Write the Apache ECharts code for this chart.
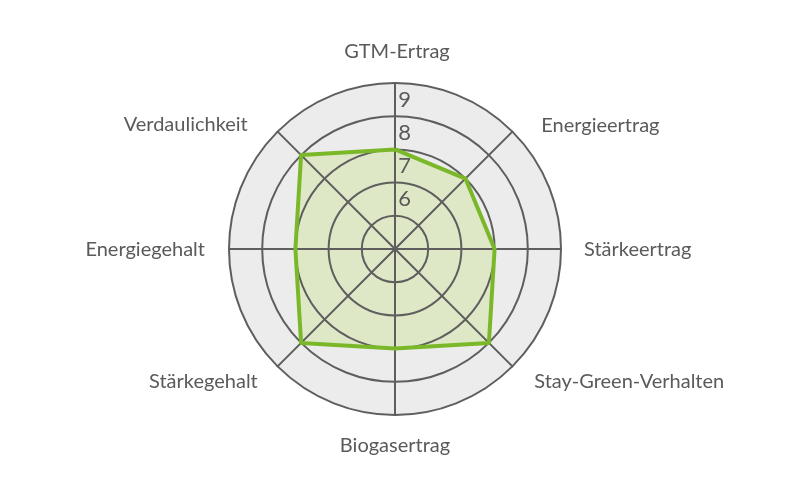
<!DOCTYPE html>
<html><head><meta charset="utf-8">
<script src="https://cdn.jsdelivr.net/npm/echarts@6/dist/echarts.min.js"></script>
<style>html,body{margin:0;padding:0;background:#fff}#c{width:791px;height:500px}</style>
</head><body><div id="c"></div>
<script>
// clockwise order starting at top
const categories = ['GTM-Ertrag','Energieertrag','Stärkeertrag','Stay-Green-Verhalten','Biogasertrag','Stärkegehalt','Energiegehalt','Verdaulichkeit'];
const values = [8, 8, 8, 9, 8, 9, 8, 9];
const scaleLabels = ['6','7','8','9'];
const scaleMin = 5, scaleMax = 10;

// ECharts radar runs counter-clockwise: reorder
const ccw = arr => [arr[0]].concat(arr.slice(1).reverse());
const cats = ccw(categories);
const vals = ccw(values);

// label nudges per clockwise position (style only)
const nameStyleKeys = ['t','ur','r','lr','b','ll','l','ul'];
const styleOf = {};
categories.forEach((c, i) => styleOf[c] = nameStyleKeys[i]);

const font = 'Lato';
const txt = {color: '#5a5a5a', fontFamily: font, fontSize: 20};
const rich = {
  t:  Object.assign({padding: [0, 0, 0, 4]}, txt),
  ur: Object.assign({padding: [18, 0, 0, 14]}, txt),
  r:  Object.assign({padding: [2, 0, 0, 2]}, txt),
  lr: Object.assign({padding: [0, 0, 0, 7]}, txt),
  b:  Object.assign({padding: [0, 0, 0, 0]}, txt),
  ll: Object.assign({padding: [0, 5, 0, 0]}, txt),
  l:  Object.assign({padding: [2, 3, 0, 0]}, txt),
  ul: Object.assign({padding: [16, 15, 0, 0]}, txt)
};

const chart = echarts.init(document.getElementById('c'));
const center = [395, 249];
const radius = 166;
const indicator = cats.map(n => ({name: n, min: scaleMin, max: scaleMax}));
chart.setOption({
  animation: false,
  radar: [{
    center: center, radius: radius, shape: 'circle', splitNumber: 5, startAngle: 90,
    indicator: indicator, z: 0,
    axisName: {show: false},
    splitLine: {show: false},
    splitArea: {areaStyle: {color: ['#ececec']}},
    axisLine: {show: false},
    axisLabel: {show: false}
  }, {
    center: center, radius: radius, shape: 'circle', splitNumber: 5, startAngle: 90,
    indicator: indicator, z: 4,
    axisName: Object.assign({formatter: n => '{' + styleOf[n] + '|' + n + '}', rich: rich}, txt),
    nameGap: 21,
    splitLine: {lineStyle: {color: '#5e5e5e', width: 2}},
    splitArea: {show: false},
    axisLine: {lineStyle: {color: '#5e5e5e', width: 2}},
    axisLabel: {show: false}
  }],
  polar: {center: center, radius: radius},
  angleAxis: {startAngle: 90, show: false, min: 0, max: 360},
  radiusAxis: {
    min: scaleMin, max: scaleMax, interval: 0.5,
    axisLine: {show: false}, axisTick: {show: false}, splitLine: {show: false},
    axisLabel: {
      color: '#5a5a5a', fontFamily: font, fontSize: 22, margin: -16,
      formatter: v => { const i = Math.round(v - 0.5) - 6; return (Math.abs(v - Math.round(v)) > 0.1 && i >= 0 && i < scaleLabels.length) ? scaleLabels[i] : ''; }
    },
    z: 6
  },
  series: [{
    type: 'radar',
    radarIndex: 0,
    z: 2,
    symbol: 'none',
    lineStyle: {width: 0, opacity: 0},
    areaStyle: {color: '#dee8c7', opacity: 1},
    data: [{value: vals}]
  }, {
    type: 'radar',
    radarIndex: 1,
    z: 5,
    symbol: 'none',
    lineStyle: {color: '#7ab829', width: 4},
    data: [{value: vals}]
  }]
});
</script></body></html>
